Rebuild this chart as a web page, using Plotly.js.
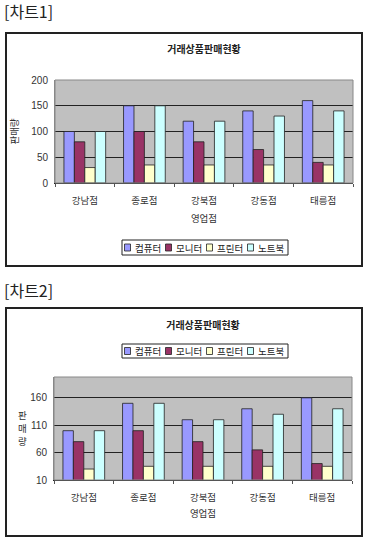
<!DOCTYPE html>
<html>
<head>
<meta charset="utf-8">
<script src="https://cdn.plot.ly/plotly-3.0.1.min.js"></script>
<style>
  html, body { margin:0; padding:0; background:#fff; width:373px; height:543px; overflow:hidden; }
  .lbl { position:absolute; left:4px; font-family:"Noto Sans CJK KR","Noto Sans",sans-serif; font-size:16px; color:#222; line-height:18px; }
  .box { position:absolute; left:5px; width:358px; box-sizing:border-box; border:2px solid #222; background:#fff; }
</style>
</head>
<body>
<div class="lbl" style="top:2px;">[차트1]</div>
<div class="box" style="top:32px;height:235px;"><div id="c1" style="width:354px;height:231px;"></div></div>
<div class="lbl" style="top:281px;">[차트2]</div>
<div class="box" style="top:307px;height:230px;"><div id="c2" style="width:354px;height:226px;"></div></div>
<script>
// ---- data ----
const chartTitle = "거래상품판매현황";
const stores = ["강남점", "종로점", "강북점", "강동점", "태릉점"];
const seriesNames = ["컴퓨터", "모니터", "프린터", "노트북"];
const computer = [100, 150, 120, 140, 160];
const monitor  = [80, 100, 80, 65, 40];
const printer  = [30, 35, 35, 35, 35];
const notebook = [100, 150, 120, 130, 140];
const seriesColors = ["#9999FF", "#993366", "#FFFFCC", "#CCFFFF"];
const xTitle = "영업점";
const yTitle = "판매량";
const y1Ticks = [0, 50, 100, 150, 200];
const y2Ticks = [10, 60, 110, 160];

const allSeries = [computer, monitor, printer, notebook];
const KR = '"Noto Sans CJK KR","Noto Sans",sans-serif';
const NUM = '"Liberation Sans",Arial,sans-serif';

function traces() {
  return allSeries.map((vals, i) => ({
    type: 'bar', x: stores, y: vals, name: seriesNames[i],
    marker: { color: seriesColors[i], line: { color: '#222', width: 0.8 } },
    showlegend: false, hoverinfo: 'skip'
  }));
}

// custom legend box (layout shapes + annotations), px relative to figure
function legend(W, H, m, boxX, boxY, boxH) {
  const pw = W - m.l - m.r, ph = H - m.t - m.b;
  const X = px => (px - m.l) / pw;
  const Y = py => 1 - (py - m.t) / ph;
  const step = 41;
  const shapes = [{ type: 'rect', xref: 'paper', yref: 'paper',
    x0: X(boxX), x1: X(boxX + step * seriesNames.length + 2), y0: Y(boxY), y1: Y(boxY + boxH),
    line: { color: '#222', width: 1 }, fillcolor: '#fff', layer: 'above' }];
  const ann = [];
  seriesNames.forEach((n, i) => {
    const sx = boxX + 2.5 + step * i, cy = boxY + boxH / 2;
    shapes.push({ type: 'rect', xref: 'paper', yref: 'paper',
      x0: X(sx), x1: X(sx + 6), y0: Y(cy - 3.5), y1: Y(cy + 3.5),
      fillcolor: seriesColors[i], line: { color: '#222', width: 0.8 }, layer: 'above' });
    ann.push({ xref: 'paper', yref: 'paper', x: X(sx + 8), y: Y(cy), xanchor: 'left', yanchor: 'middle',
      text: n, showarrow: false, font: { family: KR, size: 9.5, color: '#222' } });
  });
  return { shapes, ann };
}

function baseAxisX(standoff) {
  return {
    type: 'category', showgrid: false, showline: true, linecolor: '#222', linewidth: 1,
    ticks: 'outside', tickson: 'boundaries', ticklen: 3, tickcolor: '#555',
    tickfont: { family: KR, size: 9.5, color: '#333' }, ticklabelstandoff: standoff,
    fixedrange: true
  };
}
function plotBorder() {
  return { type: 'rect', xref: 'paper', yref: 'paper', x0: 0, x1: 1, y0: 0, y1: 1,
    line: { color: '#888', width: 1 }, layer: 'above' };
}

// ---- chart 1 ----
(function () {
  const W = 354, H = 231, m = { l: 48, r: 8, t: 46, b: 82 };
  const lg = legend(W, H, m, 115, 206, 15);
  Plotly.newPlot('c1', traces(), {
    width: W, height: H, margin: m,
    paper_bgcolor: '#fff', plot_bgcolor: '#c0c0c0',
    barmode: 'group', bargap: 0.3, bargroupgap: 0,
    title: { text: '<b>' + chartTitle + '</b>', font: { family: KR, size: 10, color: '#222' },
             x: 0.5 * (m.l + (W - m.r)) / W, xanchor: 'center', yref: 'container', y: 1 - 15 / H, yanchor: 'middle' },
    xaxis: Object.assign(baseAxisX(9), {
      title: { text: xTitle, font: { family: KR, size: 9.5, color: '#333' }, standoff: 8 } }),
    yaxis: {
      range: [0, 200], tickvals: y1Ticks, ticktext: y1Ticks.map(String),
      showgrid: true, gridcolor: '#222', gridwidth: 1, zeroline: false,
      showline: true, linecolor: '#888', ticks: '',
      tickfont: { family: NUM, size: 10, color: '#333' }, ticklabelstandoff: 4,
      title: { text: yTitle, font: { family: KR, size: 9.5, color: '#333' }, standoff: 10 },
      fixedrange: true
    },
    shapes: [plotBorder()].concat(lg.shapes),
    annotations: lg.ann
  }, { staticPlot: true });
})();

// ---- chart 2 ----
(function () {
  const W = 354, H = 226, m = { l: 47, r: 9, t: 68, b: 55 };
  const lg = legend(W, H, m, 115, 35, 14);
  const pw = W - m.l - m.r, ph = H - m.t - m.b;
  const chars = yTitle.split('');
  const ann = lg.ann.concat(chars.map((c, i) => ({
    xref: 'paper', yref: 'paper', x: (15 - m.l) / pw, y: 1 - (106 + 13 * i - m.t) / ph,
    xanchor: 'center', yanchor: 'middle', showarrow: false,
    text: c, font: { family: KR, size: 9.5, color: '#333' }
  })));
  Plotly.newPlot('c2', traces(), {
    width: W, height: H, margin: m,
    paper_bgcolor: '#fff', plot_bgcolor: '#c0c0c0',
    barmode: 'group', bargap: 0.3, bargroupgap: 0,
    title: { text: '<b>' + chartTitle + '</b>', font: { family: KR, size: 10, color: '#222' },
             x: 0.5 * (m.l + (W - m.r)) / W, xanchor: 'center', yref: 'container', y: 1 - 16 / H, yanchor: 'middle' },
    xaxis: Object.assign(baseAxisX(9), {
      title: { text: xTitle, font: { family: KR, size: 9.5, color: '#333' }, standoff: 6 } }),
    yaxis: {
      range: [10, 198], tickvals: y2Ticks, ticktext: y2Ticks.map(String),
      showgrid: true, gridcolor: '#222', gridwidth: 1, zeroline: false,
      showline: true, linecolor: '#888', ticks: '',
      tickfont: { family: NUM, size: 10, color: '#333' }, ticklabelstandoff: 4,
      fixedrange: true
    },
    shapes: [plotBorder()].concat(lg.shapes),
    annotations: ann
  }, { staticPlot: true });
})();
</script>
</body>
</html>
